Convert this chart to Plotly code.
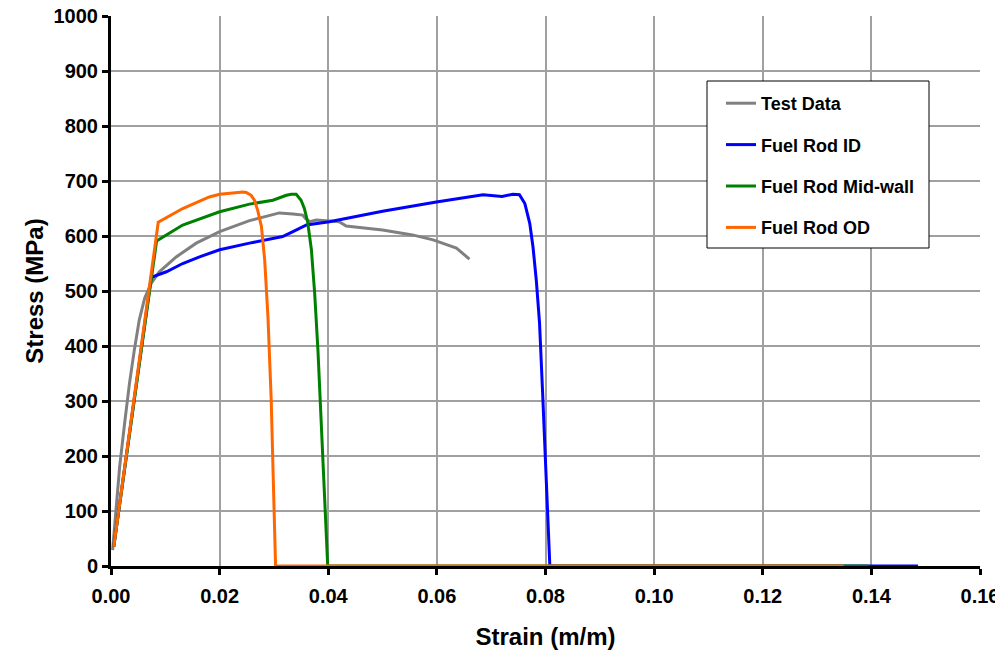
import plotly.graph_objects as go

# Test data
test_strain = [0.0003, 0.0010, 0.0016, 0.0025, 0.0034, 0.0043, 0.0052, 0.0062, 0.0074, 0.0089,
               0.012, 0.0157, 0.020, 0.0255, 0.031, 0.0335, 0.0353, 0.0358, 0.0366, 0.0378, 0.041, 0.042,
               0.0433, 0.050, 0.0555, 0.0593, 0.0636, 0.066]
test_stress = [29, 120, 181, 259, 332, 393, 447, 487, 514, 535,
               562, 587, 608, 628, 642, 640, 638, 632, 626, 629, 627, 626,
               618, 611, 602, 593, 578, 558]

# Fuel Rod ID
id_strain = [0.0005, 0.0074, 0.0102, 0.0132, 0.0163, 0.020, 0.0255, 0.0316, 0.0335, 0.036, 0.0402,
             0.050, 0.0599, 0.0685, 0.072, 0.074, 0.0752, 0.0762, 0.0771, 0.0777, 0.0783, 0.0789,
             0.0795, 0.0801, 0.0808, 0.1486]
id_stress = [35, 525, 535, 550, 562, 575, 587, 599, 608, 620, 626,
             645, 662, 675, 672, 676, 675, 659, 623, 580, 520, 442,
             308, 156, 0, 0]

# Fuel Rod Mid-wall
mid_strain = [0.0005, 0.0084, 0.0132, 0.020, 0.0255, 0.0298, 0.0323, 0.0332, 0.0341, 0.0350, 0.0356,
              0.0362, 0.0369, 0.0375, 0.0381, 0.0387, 0.0393, 0.0399, 0.1395]
mid_stress = [35, 591, 620, 644, 658, 665, 674, 676, 676, 665, 650,
              626, 575, 496, 393, 259, 120, 0, 0]

# Fuel Rod OD
od_strain = [0.0005, 0.0087, 0.0132, 0.0181, 0.020, 0.0243, 0.0249, 0.0258, 0.0264, 0.0270, 0.0277,
             0.0283, 0.0289, 0.0295, 0.0299, 0.0303, 0.1349]
od_stress = [35, 625, 650, 671, 676, 680, 679, 674, 665, 647, 617,
             556, 453, 302, 150, 0, 0]

x_ticks = [0.00, 0.02, 0.04, 0.06, 0.08, 0.10, 0.12, 0.14, 0.16]
y_ticks = [0, 100, 200, 300, 400, 500, 600, 700, 800, 900, 1000]

FONT = "Arial, Liberation Sans, sans-serif"
OFF = 8  # page body margin
FW, FH = 1003 - OFF, 651 - OFF
PL, PR, PT, PB = 111 - OFF, 980 - OFF, 16 - OFF, 566 - OFF
PW, PH = PR - PL, PB - PT

fig = go.Figure()
series = [
    ("Test Data", test_strain, test_stress, "#808080"),
    ("Fuel Rod ID", id_strain, id_stress, "#0000FF"),
    ("Fuel Rod Mid-wall", mid_strain, mid_stress, "#008000"),
    ("Fuel Rod OD", od_strain, od_stress, "#FF6600"),
]
for i, (name, xs, ys, col) in enumerate(series):
    fig.add_trace(go.Scatter(x=xs, y=ys, mode="lines", name=name, legendgroup=f"g{i}",
                             line=dict(color=col, width=3)))

fig.add_shape(type="rect", xref="paper", yref="paper",
              x0=(707 - OFF - PL) / PW, x1=(929 - OFF - PL) / PW,
              y0=(PB - (248 - OFF)) / PH, y1=(PB - (81 - OFF)) / PH,
              line=dict(color="black", width=1), fillcolor="white", layer="above")

tickfont = dict(family=FONT, size=20, color="black", weight="bold")
titlefont = dict(family=FONT, size=24, color="black", weight="bold")

fig.update_layout(
    width=FW, height=FH,
    margin=dict(l=PL, r=FW - PR, t=PT, b=FH - PB, autoexpand=False),
    paper_bgcolor="white", plot_bgcolor="white",
    font=dict(family=FONT, color="black"),
    showlegend=True,
    legend=dict(x=(721 - OFF - PL) / PW, y=(PB - (85 - OFF)) / PH, xanchor="left", yanchor="top",
                bgcolor="rgba(0,0,0,0)", borderwidth=0, tracegroupgap=15,
                font=dict(family=FONT, size=18, color="black", weight="bold"), itemwidth=30),
    xaxis=dict(range=[0, 0.16], tickvals=x_ticks, tickformat=".2f", automargin=False,
               showgrid=True, gridcolor="#A0A0A0", gridwidth=1.5,
               showline=True, linecolor="black", linewidth=3,
               ticks="outside", ticklen=6, tickwidth=3, tickcolor="black",
               ticklabelstandoff=4, ticklabeloverflow="allow",
               tickfont=tickfont,
               title=dict(text="Strain (m/m)", font=titlefont, standoff=23),
               zeroline=False),
    yaxis=dict(range=[0, 1000], tickvals=y_ticks, automargin=False,
               showgrid=True, gridcolor="#A0A0A0", gridwidth=1.5,
               showline=True, linecolor="black", linewidth=3,
               ticks="outside", ticklen=6, tickwidth=3, tickcolor="black",
               ticklabeloverflow="allow",
               tickfont=tickfont,
               title=dict(text="Stress (MPa)", font=titlefont, standoff=4),
               zeroline=False),
)

fig.write_html("out.html")
